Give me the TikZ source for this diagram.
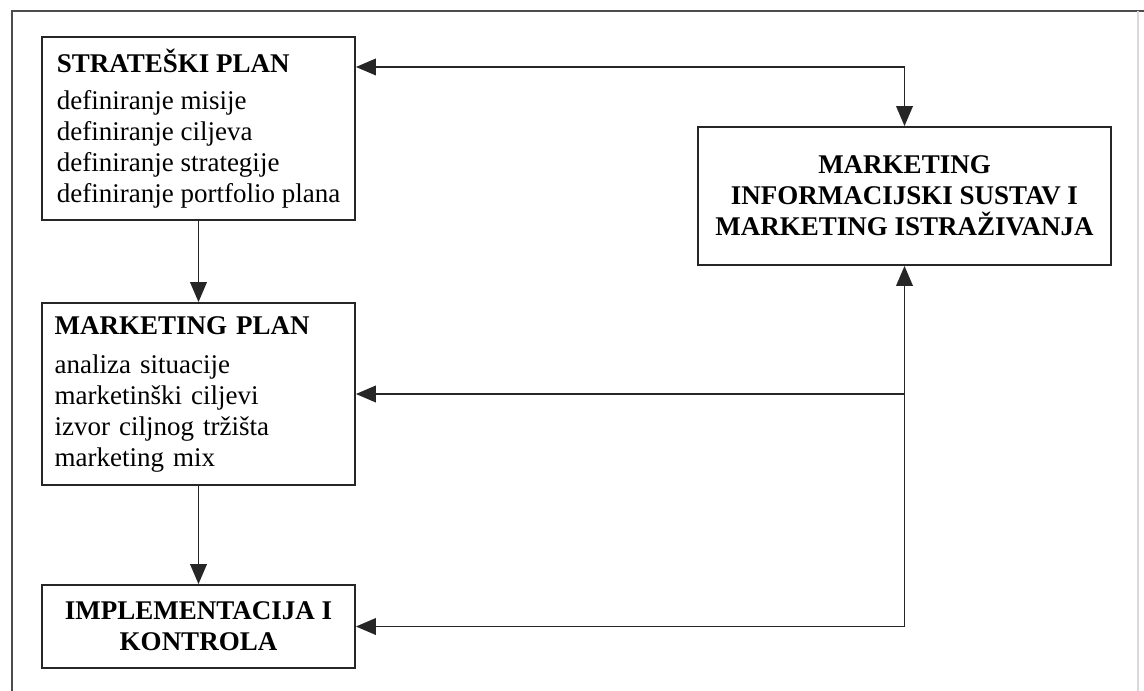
\documentclass[tikz,border=0pt]{standalone}
\usepackage{fontspec}
\setmainfont{Liberation Serif}
\usetikzlibrary{arrows.meta,positioning}
\tikzset{
  box/.style={draw=black!85, line width=1.4pt, inner xsep=9.5pt, inner ysep=0pt,
    font=\fontsize{20.25}{23.25}\selectfont},
  link/.style={draw=black!85, line width=1.2pt}
}
\begin{document}
\begin{tikzpicture}[x=0.75pt, y=-0.75pt, >={Triangle[length=15pt,width=12.5pt]}]
	\useasboundingbox (0,0) rectangle (1144,691);
	
	\coordinate (SPc) at (198.5,128.5);
	\coordinate (MPc) at (198.5,394);
	\coordinate (IKc) at (198.5,626.5);
	\coordinate (MISc) at (904.5,196);
	\coordinate (T) at (904.5,67);
	
	% frame
	\draw[black!70, line width=1.2pt] (12,691) -- (12,11) -- (1144,11);
	\draw[black!15, line width=1pt] (1138,11) -- (1138,691);
	
	\node[box, minimum width=234.75pt, minimum height=137.25pt, align=left] (SP) at (SPc)
		{\textbf{STRATEŠKI PLAN}\\[5pt]
		definiranje misije\\
		definiranje ciljeva\\
		definiranje strategije\\
		definiranje portfolio plana};
	\node[box, minimum width=234.75pt, minimum height=136.5pt, text width=215.75pt, align=left] (MP) at (MPc)
		{\textbf{MARKETING PLAN}\\[6pt]
		analiza situacije\\
		marketinški ciljevi\\
		izvor ciljnog tržišta\\
		marketing mix};
	\node[box, minimum width=234.75pt, minimum height=62.25pt, align=center] (IK) at (IKc)
		{\textbf{IMPLEMENTACIJA I}\\ \textbf{KONTROLA}};
	\node[box, minimum width=309.75pt, minimum height=103.5pt, align=center] (MIS) at (MISc)
		{\textbf{MARKETING}\\ \textbf{INFORMACIJSKI SUSTAV I}\\ \textbf{MARKETING ISTRAŽIVANJA}};
	
	% connectors
	\draw[link, ->] (SP) -- (MP);
	\draw[link, ->] (MP) -- (IK);
	\draw[link, <->] (SP.east |- T) -| (MIS.north);
	\draw[link, <->] (IK.east) -| (MIS.south);
	\draw[link, ->] (MIS.south |- MP.east) -- (MP.east);
	
\end{tikzpicture}
\end{document}
